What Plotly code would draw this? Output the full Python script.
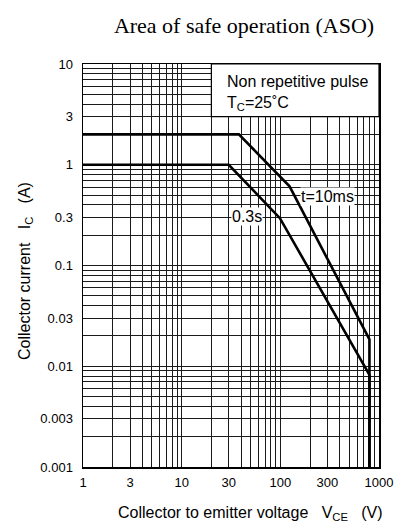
import numpy as np
import plotly.graph_objects as go

# ---- data ----
vce_10ms = [1, 38, 124, 800, 800]
ic_10ms = [2, 2, 0.61, 0.0185, 0.001]
vce_03s = [1, 30, 99, 800, 800]
ic_03s = [1, 1, 0.295, 0.0082, 0.001]

x_tick_vals = [1, 3, 10, 30, 100, 300, 1000]
x_tick_text = ["1", "3", "10", "30", "100", "300", "1000"]
y_tick_vals = [0.001, 0.003, 0.01, 0.03, 0.1, 0.3, 1, 3, 10]
y_tick_text = ["0.001", "0.003", "0.01", "0.03", "0.1", "0.3", "1", "3", "10"]
x_minor_vals = [2, 4, 5, 6, 7, 8, 9, 20, 40, 50, 60, 70, 80, 90,
                200, 400, 500, 600, 700, 800, 900]
y_minor_vals = [0.002, 0.004, 0.005, 0.006, 0.007, 0.008, 0.009,
                0.02, 0.04, 0.05, 0.06, 0.07, 0.08, 0.09,
                0.2, 0.4, 0.5, 0.6, 0.7, 0.8, 0.9,
                2, 4, 5, 6, 7, 8, 9]

label_10ms = ("t=10ms", 303, 0.479)
label_03s = ("0.3s", 46, 0.305)
note_box = (20, 1000, 3, 10)

SANS = "Liberation Sans, Arial, sans-serif"
SERIF = "Liberation Serif, Times New Roman, serif"
GRID = "#1a1a1a"

fig = go.Figure()
fig.add_trace(go.Scatter(x=vce_10ms, y=ic_10ms, mode="lines",
                         line=dict(color="black", width=2.6), showlegend=False))
fig.add_trace(go.Scatter(x=vce_03s, y=ic_03s, mode="lines",
                         line=dict(color="black", width=2.6), showlegend=False))

fig.add_shape(type="rect", xref="x", yref="y",
              x0=note_box[0], x1=note_box[1], y0=note_box[2], y1=note_box[3],
              fillcolor="white", line=dict(color="black", width=1.2), layer="above")

for txt, xv, yv in (label_10ms, label_03s):
    fig.add_annotation(x=np.log10(xv), y=np.log10(yv), xref="x", yref="y",
                       text=txt, showarrow=False, bgcolor="white",
                       font=dict(family=SANS, size=16, color="black"),
                       borderpad=0)

fig.add_annotation(xref="paper", yref="paper", x=(225 - 83) / 296, y=(467 - 82) / 403,
                   xanchor="left", yanchor="middle", showarrow=False,
                   text="Non repetitive pulse",
                   font=dict(family=SANS, size=16, color="black"))
fig.add_annotation(xref="paper", yref="paper", x=(225 - 83) / 296, y=(467 - 103) / 403,
                   xanchor="left", yanchor="middle", showarrow=False,
                   text="T<sub>C</sub>=25˚C",
                   font=dict(family=SANS, size=16, color="black"))

# axis titles
fig.add_annotation(xref="paper", yref="paper", x=(250.5 - 83) / 296, y=(467 - 513) / 403,
                   xanchor="center", yanchor="middle", showarrow=False,
                   text="Collector to emitter voltage   V<sub>CE</sub>   (V)",
                   font=dict(family=SANS, size=16, color="black"))
fig.add_annotation(xref="paper", yref="paper", x=(25 - 83) / 296, y=(467 - 271) / 403,
                   xanchor="center", yanchor="middle", showarrow=False, textangle=-90,
                   text="Collector current   I<sub>C</sub>   (A)",
                   font=dict(family=SANS, size=16, color="black"))

fig.update_layout(
    width=406, height=527,
    margin=dict(l=83, r=27, t=64, b=60),
    paper_bgcolor="white", plot_bgcolor="white",
    title=dict(text="Area of safe operation (ASO)", x=244 / 406, xanchor="center",
               y=1 - 25 / 527, yanchor="middle", yref="container",
               font=dict(family=SERIF, size=22, color="black")),
    font=dict(family=SANS, color="black"),
)

fig.update_xaxes(type="log", range=[0, 3], tickmode="array",
                 tickvals=x_tick_vals, ticktext=x_tick_text, ticks="",
                 tickfont=dict(family=SANS, size=13, color="black"),
                 showgrid=True, gridcolor=GRID, gridwidth=1,
                 minor=dict(tickmode="array", tickvals=x_minor_vals, showgrid=True,
                            gridcolor=GRID, gridwidth=1, ticks=""),
                 showline=True, linecolor="black", linewidth=1.5, mirror=True,
                 zeroline=False, ticklabelstandoff=3)
fig.update_yaxes(type="log", range=[-3, 1], tickmode="array",
                 tickvals=y_tick_vals, ticktext=y_tick_text, ticks="",
                 tickfont=dict(family=SANS, size=13, color="black"),
                 showgrid=True, gridcolor=GRID, gridwidth=1,
                 minor=dict(tickmode="array", tickvals=y_minor_vals, showgrid=True,
                            gridcolor=GRID, gridwidth=1, ticks=""),
                 showline=True, linecolor="black", linewidth=1.5, mirror=True,
                 zeroline=False, ticklabelstandoff=6)

fig.write_html("out.html",
               config={"displayModeBar": False, "staticPlot": True},
               post_script="document.body.style.margin='0';document.body.style.overflow='hidden';")
